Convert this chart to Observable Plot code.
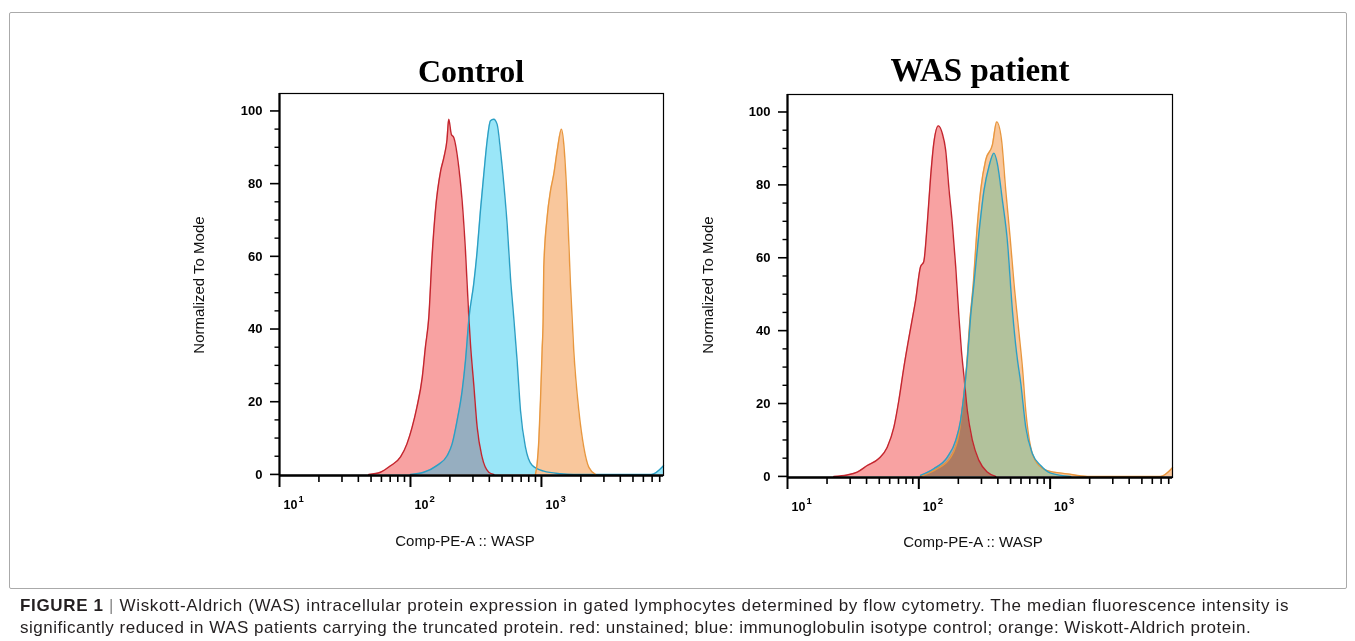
<!DOCTYPE html>
<html><head><meta charset="utf-8">
<script src="https://cdn.jsdelivr.net/npm/d3@7"></script>
<script src="https://cdn.jsdelivr.net/npm/@observablehq/plot@0.6"></script>
<style>
body{margin:0;background:#fff;width:1355px;height:641px;overflow:hidden;position:relative;font-family:"Liberation Sans",Arial,sans-serif}
.abs{position:absolute;white-space:nowrap;line-height:1}
.title{font-family:"Liberation Serif","Times New Roman",serif;font-weight:bold;color:#000;transform:translateX(-50%)}
.xl{font-size:15px;color:#111;transform:translateX(-50%)}
.yl{font-size:15px;color:#111;transform:translate(-50%,-50%) rotate(-90deg)}
.box{position:absolute;left:9px;top:12px;width:1336px;height:575px;border:1.5px solid #aaa;border-radius:2px}
.cap{font-size:17px;color:#231f20;left:20px}
.cap b{font-weight:bold}
.cap .bar{color:#888}
.panel{position:absolute}
</style></head>
<body>
<div class="box"></div>
<div id="p1" class="panel" style="left:179px;top:83px"></div>
<div id="p2" class="panel" style="left:687px;top:84px"></div>
<div class="abs title" style="left:471px;top:55px;font-size:32px">Control</div>
<div class="abs title" style="left:980px;top:54px;font-size:33px">WAS patient</div>
<div class="abs xl" style="left:465px;top:533px">Comp-PE-A :: WASP</div>
<div class="abs xl" style="left:973px;top:534px">Comp-PE-A :: WASP</div>
<div class="abs yl" style="left:198px;top:285px">Normalized To Mode</div>
<div class="abs yl" style="left:707px;top:285px">Normalized To Mode</div>
<div class="abs cap" style="top:596.5px;letter-spacing:0.66px"><b>FIGURE 1</b> <span class="bar">|</span> Wiskott-Aldrich (WAS) intracellular protein expression in gated lymphocytes determined by flow cytometry. The median fluorescence intensity is</div>
<div class="abs cap" style="top:618.5px;letter-spacing:0.5px">significantly reduced in WAS patients carrying the truncated protein. red: unstained; blue: immunoglobulin isotype control; orange: Wiskott-Aldrich protein.</div>
<script>
// ---- data ----
const seriesNames = ["unstained", "isotype control", "Wiskott-Aldrich protein"];
const xMajor = [10, 100, 1000];
const xMinor = [20,30,40,50,60,70,80,90,200,300,400,500,600,700,800,900,2000,3000,4000,5000,6000,7000,8000];
const yMajor = [0, 20, 40, 60, 80, 100];
const yMinor = [5,10,15,25,30,35,45,50,55,65,70,75,85,90,95];
const xTickBase = "10";
const xTickExp = ["1", "2", "3"];

// Control
const ctrlUnstainedX = [48,59,70,84,94,103,112,123,130,138,146,155,170,180,190,196,205,214,234,248,263,279,287,304,323,352,396,433];
const ctrlUnstainedY = [0,0.6,2.3,4.8,8.4,13,18.5,26.7,35,43.2,59.7,72.5,83.5,87.2,92,97.7,93.6,92.7,84.4,75.3,61.5,43.2,36,24.9,13,4.8,0.6,0];
const ctrlIsotypeX = [100,126,160,191,208,227,248,263,280,304,323,342,363,385,408,433,459,487,516,547,580,615,652,692,755,849,1042,1396,1750,6900,8550];
const ctrlIsotypeY = [0,0.6,2.5,5.2,8.4,14.8,23,31.3,43.2,52.4,61.5,72.5,82.6,91.8,97.3,97.7,96.3,89,79.9,68.9,54.2,43,31.3,17.6,7.5,2.5,0.9,0.2,0,0,2.4];
const ctrlWaspX = [900,927,955,983,1012,1031,1042,1105,1172,1242,1318,1422,1482,1571,1665,1765,1929,2105,2298,2583];
const ctrlWaspY = [0,2.9,9.3,20.3,34.1,43.2,57,70.7,78,82.6,89,95,90.8,75.3,52.4,34.1,17.6,7.5,2,0];

// WAS patient
const wasUnstainedX = [22.5,28.5,34,40.5,49.6,57.5,64.6,70.5,77,84,89,94.6,103,109,116,123,130,141,151,160,170,180,191,202,211,221,234,256,287,332,385];
const wasUnstainedY = [0,0.4,1.2,3,4.9,8,13.5,20.9,30,38,43,48.4,57.5,58.9,69.4,82.2,91.4,96.2,94.1,89.6,78.6,69.4,57.5,43.8,34.6,27.3,18.1,9.9,4.4,1.2,0];
const wasIsotypeX = [103,130,165,191,208,221,234,248,263,287,314,342,373,396,433,472,516,547,564,598,652,733,848,1011,1436];
const wasIsotypeY = [0.3,2.1,5.3,9.9,15.4,22.7,31.9,43.8,52.9,66.7,78.6,85,88.7,85.9,75.8,64.8,45.6,36,32,25.5,13.5,6.2,3,0.9,0];
const wasWaspX = [103,138,175,202,218,231,245,260,276,296,323,363,392,425,459,495,531,580,615,652,711,800,953,1353,1923,6900,8550];
const wasWaspY = [0,2.1,5.3,11.7,20.9,30,42.9,52.9,66.7,78.6,86.8,90.9,97.3,92.8,78.6,65.8,52.9,39.2,30,18.1,8,3.5,1.6,0.7,0,0,2.4];

// ---- styles: [fill, opacity, blend] ----
const ctrlFills = {"unstained": ["#f8a2a2", 1, "normal"], "isotype control": ["rgb(3,192,237)", 0.4, "normal"], "Wiskott-Aldrich protein": ["#f9c79c", 1, "normal"]};
const wasFills = {"unstained": ["#f8a2a2", 1, "multiply"], "isotype control": ["rgb(183,249,255)", 1, "multiply"], "Wiskott-Aldrich protein": ["#f9c79c", 1, "multiply"]};
const strokes = {"unstained": "#c3262f", "isotype control": "#2c9fc4", "Wiskott-Aldrich protein": "#e8973f"};

function table(name, xs, ys) { return xs.map((x, i) => ({series: name, x, y: ys[i]})); }

const xDomain = [10, 8550];
const yDomain = [-0.3, 104.8];

function panel(groups, fills, width, height, strokeOrder) {
  const marks = [];
  for (const g of groups) {
    const [fill, op, blend] = fills[g[0].series];
    marks.push(Plot.areaY(g, {x: "x", y: "y", fill, fillOpacity: op, mixBlendMode: blend, curve: "monotone-x"}));
  }
  for (const g of strokeOrder) {
    marks.push(Plot.lineY(g, {x: "x", y: "y", stroke: strokes[g[0].series], strokeWidth: 1.4, curve: "monotone-x"}));
  }
  marks.push(
    Plot.frame({stroke: "#000", strokeWidth: 1.2}),
    Plot.ruleX([xDomain[0]], {stroke: "#000", strokeWidth: 2.2}),
    Plot.ruleY([yDomain[0]], {stroke: "#000", strokeWidth: 2.6}),
    Plot.axisY(yMajor, {tickSize: 9, tickPadding: 8, strokeWidth: 1.6, label: null, fontWeight: "bold", fontSize: 13}),
    Plot.axisY(yMinor, {tickSize: 4.5, strokeWidth: 1.4, tickFormat: () => "", label: null}),
    Plot.axisX(xMajor, {tickSize: 12, strokeWidth: 2, tickFormat: () => "", label: null}),
    Plot.axisX(xMinor, {tickSize: 7, strokeWidth: 1.6, tickFormat: () => "", label: null}),
    Plot.text(xMajor, {x: d => d, text: () => xTickBase, frameAnchor: "bottom", dy: 29.2, dx: 4,
      textAnchor: "start", lineAnchor: "middle", fontWeight: "bold", fontSize: 12.5, fill: "#000"}),
    Plot.text(xMajor, {x: d => d, text: (d, i) => xTickExp[i], frameAnchor: "bottom", dy: 23.5, dx: 19,
      textAnchor: "start", lineAnchor: "middle", fontWeight: "bold", fontSize: 9.5, fill: "#000"})
  );
  return Plot.plot({
    width, height,
    marginLeft: 100, marginRight: 20, marginTop: 10, marginBottom: 90,
    style: {fontFamily: "Liberation Sans, Arial, sans-serif", background: "transparent", color: "#000"},
    x: {type: "log", domain: xDomain},
    y: {domain: yDomain},
    marks
  });
}

const c1 = table(seriesNames[0], ctrlUnstainedX, ctrlUnstainedY);
const c2 = table(seriesNames[1], ctrlIsotypeX, ctrlIsotypeY);
const c3 = table(seriesNames[2], ctrlWaspX, ctrlWaspY);
const w1 = table(seriesNames[0], wasUnstainedX, wasUnstainedY);
const w2 = table(seriesNames[1], wasIsotypeX, wasIsotypeY);
const w3 = table(seriesNames[2], wasWaspX, wasWaspY);

document.getElementById("p1").append(panel([c1, c2, c3], ctrlFills, 504, 482, [c1, c2, c3]));
document.getElementById("p2").append(panel([w1, w3, w2], wasFills, 505, 483, [w1, w3, w2]));
</script>
</body></html>
